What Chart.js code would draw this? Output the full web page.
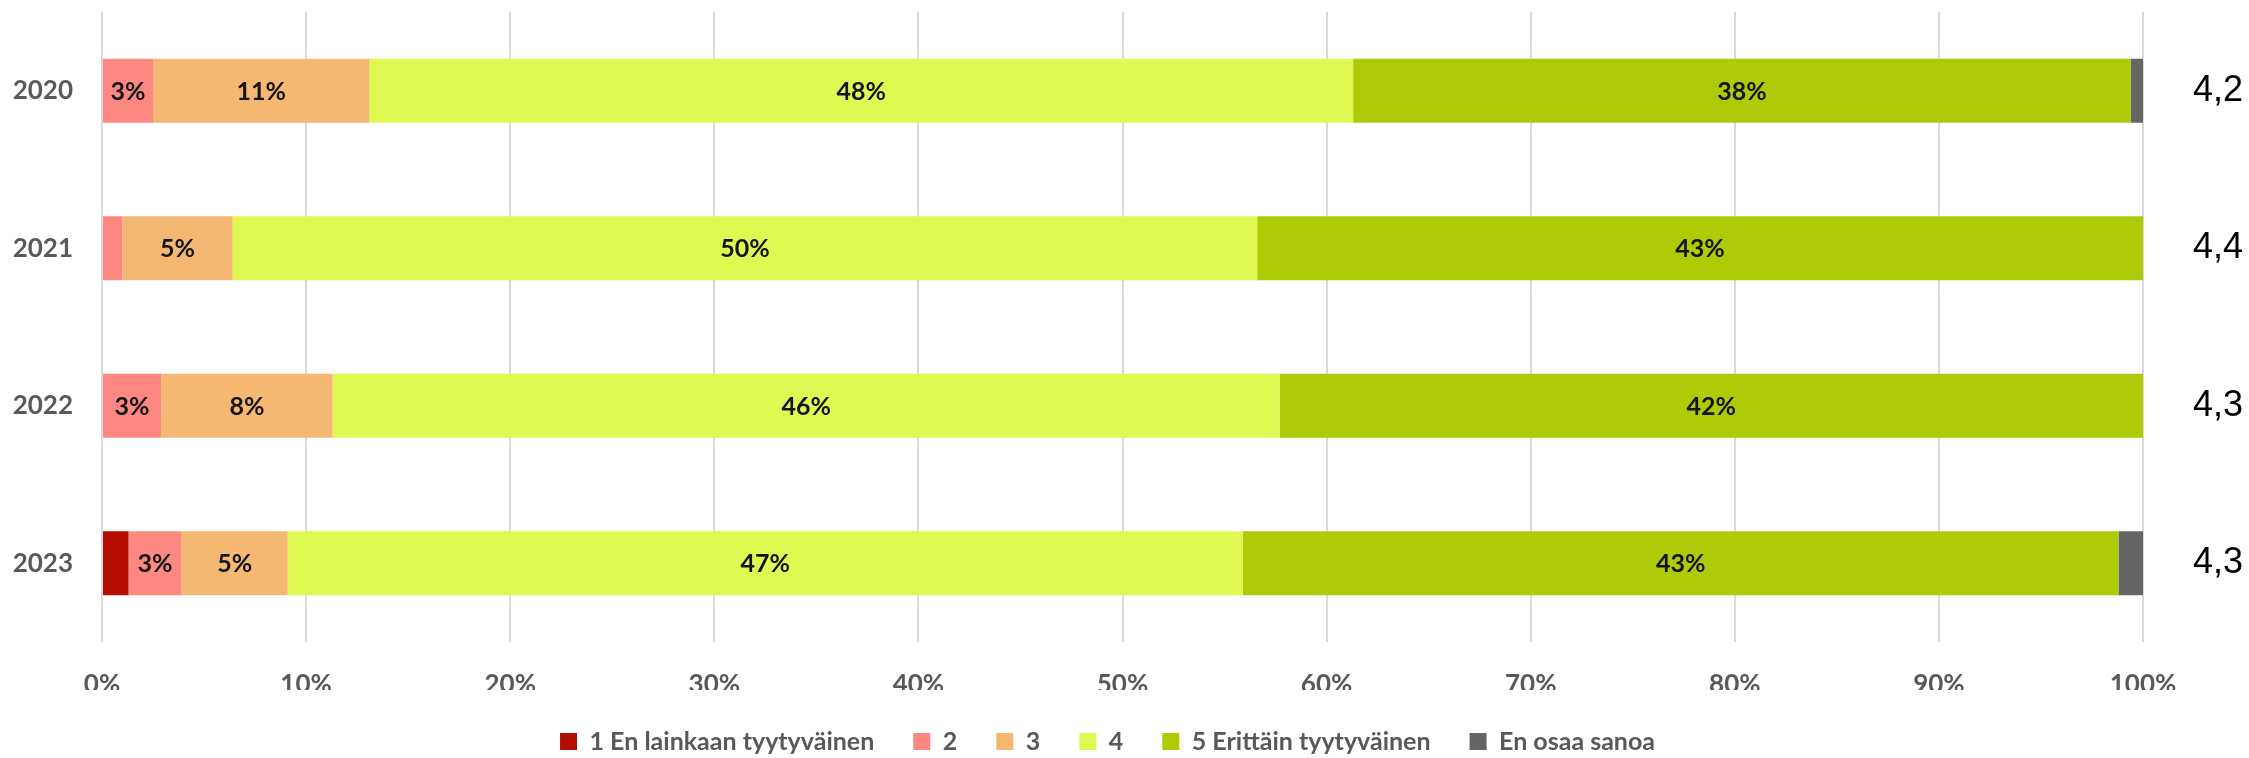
<!DOCTYPE html>
<html>
<head>
<meta charset="utf-8">
<script src="https://cdn.jsdelivr.net/npm/chart.js@4"></script>
<style>
    body { margin: 0; background: #fff; }
    #wrap { width: 2249px; height: 758px; position: relative; }
</style>
</head>
<body>
<div id="wrap"><canvas id="satisfactionChart"></canvas></div>
<script>
/*====================================
        Satisfaction by year
====================================*/

const years = ["2020", "2021", "2022", "2023"];

const seriesNames = [
    "1 En lainkaan tyytyväinen",
    "2",
    "3",
    "4",
    "5 Erittäin tyytyväinen",
    "En osaa sanoa"
];

// shares in percent, one value per year
const answers1 = [0, 0, 0, 1.3];
const answers2 = [2.5, 1.0, 2.9, 2.6];
const answers3 = [10.6, 5.4, 8.4, 5.2];
const answers4 = [48.2, 50.2, 46.4, 46.8];
const answers5 = [38.1, 43.4, 42.3, 42.9];
const answersDontKnow = [0.6, 0, 0, 1.2];

// average score shown right of each bar
const averages = ["4,2", "4,4", "4,3", "4,3"];

const seriesColors = ["#b40e02", "#fd8882", "#f5b872", "#dff852", "#afcb08", "#656565"];

const grey = "#595959";

Chart.defaults.font.family = "Lato";

const barLabels = {
    id: "barLabels",
    afterDatasetsDraw(chart) {
        const ctx = chart.ctx;
        ctx.save();
        ctx.font = "bold 25px Lato";
        ctx.fillStyle = "#141414";
        ctx.textAlign = "center";
        ctx.textBaseline = "middle";
        chart.data.datasets.forEach((ds, i) => {
            chart.getDatasetMeta(i).data.forEach((bar, j) => {
                const v = ds.data[j];
                if (v < 2) return;
                const p = bar.getCenterPoint();
                ctx.fillText(Math.round(v) + "%", p.x, p.y + 1);
            });
        });
        ctx.restore();
    }
};

const averageLabels = {
    id: "averageLabels",
    afterDraw(chart) {
        const ctx = chart.ctx;
        const y = chart.scales.y;
        ctx.save();
        ctx.font = "36px 'Liberation Sans'";
        ctx.fillStyle = "#000";
        ctx.textAlign = "center";
        ctx.textBaseline = "middle";
        averages.forEach((a, i) => {
            ctx.fillText(a, chart.chartArea.right + 75, y.getPixelForValue(i));
        });
        ctx.restore();
    }
};

// legend sits a little left of the plot centre in the original
const legendShift = {
    id: "legendShift",
    beforeDraw(chart) {
        chart.legend.left = chart.chartArea.left - 15;
        chart.legend.right = chart.chartArea.right - 15;
    }
};

const allAnswers = [answers1, answers2, answers3, answers4, answers5, answersDontKnow];

new Chart(document.getElementById("satisfactionChart"), {
    type: "bar",
    data: {
        labels: years,
        datasets: allAnswers.map((data, i) => ({
            label: seriesNames[i],
            data: data,
            backgroundColor: seriesColors[i],
            borderWidth: 0,
            categoryPercentage: 1,
            barPercentage: 0.405
        }))
    },
    options: {
        indexAxis: "y",
        responsive: true,
        maintainAspectRatio: false,
        animation: false,
        layout: { padding: { top: 12, right: 106, left: 0, bottom: 0 } },
        scales: {
            x: {
                stacked: true,
                min: 0,
                max: 100,
                ticks: {
                    stepSize: 10,
                    padding: 27,
                    color: grey,
                    font: { size: 26, weight: "bold" },
                    callback: v => v + "%"
                },
                grid: {
                    color: "#d9d9d9",
                    lineWidth: 2,
                    drawTicks: false
                },
                border: { display: false },
                afterFit(scale) { scale.height = 48; }
            },
            y: {
                stacked: true,
                grid: { display: false, drawTicks: false },
                border: { display: false },
                ticks: {
                    padding: 29,
                    color: grey,
                    font: { size: 26, weight: "bold" }
                },
                afterFit(scale) {
                    scale.width = 102;
                    scale.paddingTop = 0;
                    scale.paddingBottom = 0;
                }
            }
        },
        plugins: {
            legend: {
                position: "bottom",
                fullSize: false,
                maxHeight: 68,
                labels: {
                    boxWidth: 17,
                    boxHeight: 17,
                    padding: 39,
                    color: grey,
                    font: { size: 25, weight: "bold" }
                }
            },
            tooltip: { enabled: false }
        }
    },
    plugins: [barLabels, averageLabels, legendShift]
});
</script>
</body>
</html>
